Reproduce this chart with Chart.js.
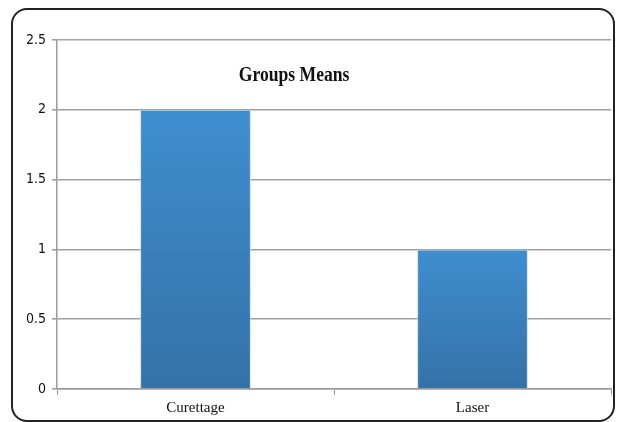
<!DOCTYPE html>
<html>
<head>
<meta charset="utf-8">
<script src="https://cdn.jsdelivr.net/npm/chart.js@4/dist/chart.umd.min.js"></script>
<style>
  html, body { margin: 0; padding: 0; background: #fff; }
  #wrap { position: relative; width: 618px; height: 422px; }
  #frame {
    position: absolute; left: 11px; top: 8px; width: 600px; height: 410px;
    border: 2px solid #222; border-radius: 16px; pointer-events: none;
  }
  canvas { position: absolute; left: 0; top: 0; }
</style>
</head>
<body>
<div id="wrap">
  <canvas id="c" width="618" height="422"></canvas>
  <div id="frame"></div>
</div>
<script>
const categories = ['Curettage', 'Laser'];
const groupMeans = [2, 1];
const yTicks = [0, 0.5, 1, 1.5, 2, 2.5];
const chartTitle = 'Groups Means';

// vertical blue gradient per bar, lighter at the top
function barFill(ctx) {
  const chart = ctx.chart;
  const ys = chart.scales && chart.scales.y;
  if (!ys || !ctx.parsed || !chart.chartArea) return '#3a80bd';
  const top = ys.getPixelForValue(ctx.parsed.y);
  const bottom = ys.getPixelForValue(0);
  if (!isFinite(top) || !isFinite(bottom) || top === bottom) return '#3a80bd';
  const g = chart.ctx.createLinearGradient(0, top, 0, bottom);
  g.addColorStop(0, '#3e8ecf');
  g.addColorStop(1, '#3472a8');
  return g;
}

// title sits inside the plot area, in a condensed bold serif
const titlePlugin = {
  id: 'innerTitle',
  afterDraw(chart) {
    const { ctx, chartArea } = chart;
    const cx = chartArea.left + chartArea.width * 0.428;
    ctx.save();
    ctx.translate(cx, chartArea.top + 36);
    ctx.scale(0.88, 1);
    ctx.font = 'bold 20px "Liberation Serif", "Times New Roman", serif';
    ctx.fillStyle = '#111';
    ctx.textAlign = 'center';
    ctx.textBaseline = 'middle';
    ctx.fillText(chartTitle, 0, 0);
    ctx.restore();
  }
};

new Chart(document.getElementById('c'), {
  type: 'bar',
  data: {
    labels: categories,
    datasets: [{
      data: groupMeans,
      backgroundColor: barFill,
      borderColor: 'rgba(200,215,230,0.8)',
      borderWidth: 1,
      barPercentage: 0.4,
      categoryPercentage: 1.0
    }]
  },
  options: {
    responsive: false,
    animation: false,
    devicePixelRatio: 1,
    layout: { padding: { top: 40, right: 7, left: 0, bottom: 0 } },
    plugins: { legend: { display: false }, tooltip: { enabled: false }, title: { display: false } },
    scales: {
      x: {
        afterFit(s) { s.height = 33; },
        grid: { drawOnChartArea: false, color: '#9a9a9a', tickLength: 6, offset: true },
        border: { color: '#9a9a9a', width: 1.5 },
        ticks: {
          color: '#111', padding: 4,
          font: { family: '"Liberation Serif", "Times New Roman", serif', size: 15 }
        }
      },
      y: {
        min: 0, max: 2.5,
        afterFit(s) { s.width = 57; },
        afterBuildTicks(s) { s.ticks = yTicks.map(v => ({ value: v })); },
        grid: { color: '#a0a0a0', lineWidth: 1.6, tickLength: 5 },
        border: { color: '#9a9a9a', width: 1.5 },
        ticks: {
          color: '#111', padding: 6,
          callback: v => String(v),
          font: { family: '"DejaVu Sans Condensed", "Liberation Sans Narrow", "Liberation Sans", sans-serif', size: 14 }
        }
      }
    }
  },
  plugins: [titlePlugin]
});
</script>
</body>
</html>
